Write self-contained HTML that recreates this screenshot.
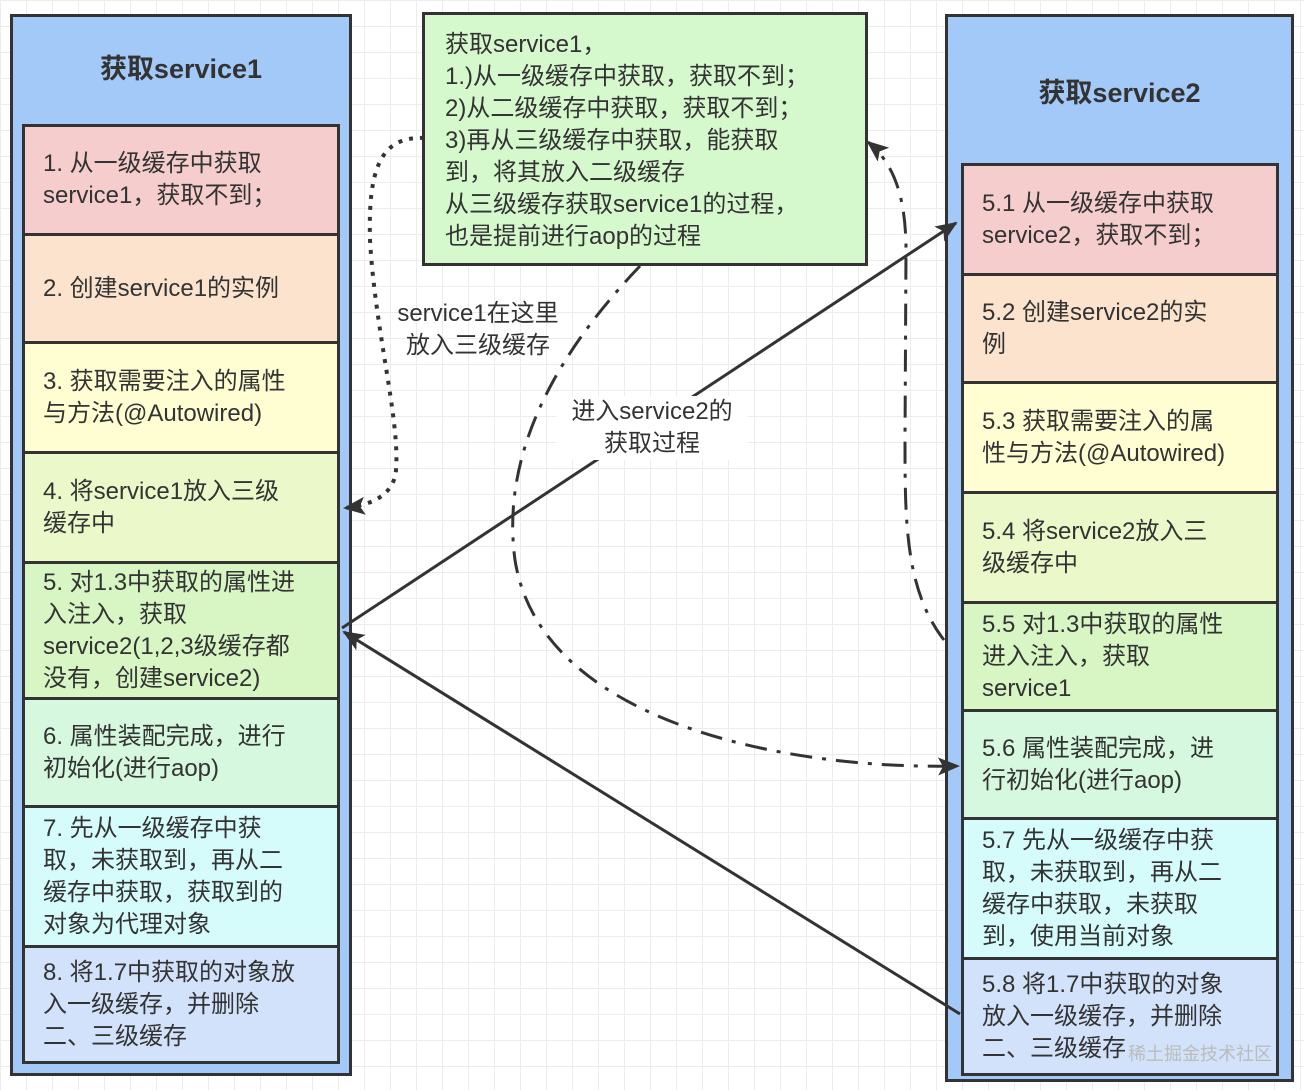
<!DOCTYPE html>
<html><head><meta charset="utf-8"><style>
body{margin:0;width:1304px;height:1090px;position:relative;overflow:hidden;background-color:#fff;
background-image:linear-gradient(#ececec 1px,transparent 1px),linear-gradient(90deg,#ececec 1px,transparent 1px);background-size:26px 26px;
font-family:"Liberation Sans","Noto Sans CJK SC",sans-serif;color:#333}
.o{position:absolute;background:#a3c9f8;border:3px solid #333;box-sizing:border-box}
.t{position:absolute;font-size:27px;font-weight:bold;text-align:center;width:100%}
.b{position:absolute;border:3px solid #333;box-sizing:border-box;font-size:24px;line-height:32px;padding:0 18px;display:flex;align-items:center;white-space:nowrap}
.lbl{position:absolute;font-size:24px;line-height:32px;text-align:center;background:#fff}
</style></head><body>
<div class="o" style="left:10px;top:14px;width:342px;height:1062px"><div class="t" style="top:30px">获取service1</div></div>
<div class="b" style="left:22px;top:124px;width:318px;height:112px;background:#f6cdcd"><div>1. 从一级缓存中获取<br>service1，获取不到；</div></div>
<div class="b" style="left:22px;top:233px;width:318px;height:111px;background:#fbe3cd">2. 创建service1的实例</div>
<div class="b" style="left:22px;top:341px;width:318px;height:113px;background:#fffdd2"><div>3. 获取需要注入的属性<br>与方法(@Autowired)</div></div>
<div class="b" style="left:22px;top:451px;width:318px;height:113px;background:#ebf8ca"><div>4. 将service1放入三级<br>缓存中</div></div>
<div class="b" style="left:22px;top:561px;width:318px;height:139px;background:#d7f6c4"><div>5. 对1.3中获取的属性进<br>入注入，获取<br>service2(1,2,3级缓存都<br>没有，创建service2)</div></div>
<div class="b" style="left:22px;top:697px;width:318px;height:111px;background:#d5f8de"><div>6. 属性装配完成，进行<br>初始化(进行aop)</div></div>
<div class="b" style="left:22px;top:805px;width:318px;height:143px;background:#d5fbfb"><div>7. 先从一级缓存中获<br>取，未获取到，再从二<br>缓存中获取，获取到的<br>对象为代理对象</div></div>
<div class="b" style="left:22px;top:945px;width:318px;height:119px;background:#d2e2fb"><div>8. 将1.7中获取的对象放<br>入一级缓存，并删除<br>二、三级缓存</div></div>

<div class="o" style="left:945px;top:14px;width:349px;height:1068px"><div class="t" style="top:54px">获取service2</div></div>
<div class="b" style="left:961px;top:163px;width:318px;height:113px;background:#f6cdcd"><div>5.1 从一级缓存中获取<br>service2，获取不到；</div></div>
<div class="b" style="left:961px;top:273px;width:318px;height:111px;background:#fbe3cd"><div>5.2 创建service2的实<br>例</div></div>
<div class="b" style="left:961px;top:381px;width:318px;height:113px;background:#fffdd2"><div>5.3 获取需要注入的属<br>性与方法(@Autowired)</div></div>
<div class="b" style="left:961px;top:491px;width:318px;height:113px;background:#ebf8ca"><div>5.4 将service2放入三<br>级缓存中</div></div>
<div class="b" style="left:961px;top:601px;width:318px;height:111px;background:#d7f6c4"><div>5.5 对1.3中获取的属性<br>进入注入，获取<br>service1</div></div>
<div class="b" style="left:961px;top:709px;width:318px;height:111px;background:#d5f8de"><div>5.6 属性装配完成，进<br>行初始化(进行aop)</div></div>
<div class="b" style="left:961px;top:817px;width:318px;height:143px;background:#d5fbfb"><div>5.7 先从一级缓存中获<br>取，未获取到，再从二<br>缓存中获取，未获取<br>到，使用当前对象</div></div>
<div class="b" style="left:961px;top:957px;width:318px;height:119px;background:#d2e2fb"><div>5.8 将1.7中获取的对象<br>放入一级缓存，并删除<br>二、三级缓存</div></div>

<div class="b" style="left:422px;top:12px;width:446px;height:254px;background:#d5f9cd;align-items:flex-start;padding:14px 20px"><div>获取service1，<br>1.)从一级缓存中获取，获取不到；<br>2)从二级缓存中获取，获取不到；<br>3)再从三级缓存中获取，能获取<br>到，将其放入二级缓存<br>从三级缓存获取service1的过程，<br>也是提前进行aop的过程</div></div>

<svg width="1304" height="1090" style="position:absolute;left:0;top:0">
<defs>
<marker id="A" markerWidth="22" markerHeight="18" refX="20" refY="9" orient="auto" markerUnits="userSpaceOnUse"><path d="M0,0L22,9L0,18L5,9z" fill="#333"/></marker></defs>
<g fill="none" stroke="#333" stroke-width="3">
<path d="M424,138 C380,136 368,170 370,240 C375,330 400,420 396,470 C394,495 372,505 345,508" stroke-width="4" stroke-dasharray="4,7" marker-end="url(#A)"/>
<line x1="342" y1="628" x2="956" y2="223" marker-end="url(#A)"/>
<line x1="960" y1="1014" x2="344" y2="632" marker-end="url(#A)"/>
<path d="M640,266 C560,350 500,450 515,560 C540,720 780,770 958,766" stroke-dasharray="22,10,4,10" marker-end="url(#A)"/>
<path d="M944,640 C905,590 905,520 905,440 L906,250 C906,190 890,160 868,142" stroke-dasharray="22,10,4,10" marker-end="url(#A)"/>
</g></svg>
<div class="lbl" style="left:388px;top:298px;width:180px;background:transparent">service1在这里<br>放入三级缓存</div>
<div class="lbl" style="left:556px;top:396px;width:192px">进入service2的<br>获取过程</div>
<div style="position:absolute;left:1128px;top:1040px;font-size:18px;color:#bbb">稀土掘金技术社区</div>
</body></html>
